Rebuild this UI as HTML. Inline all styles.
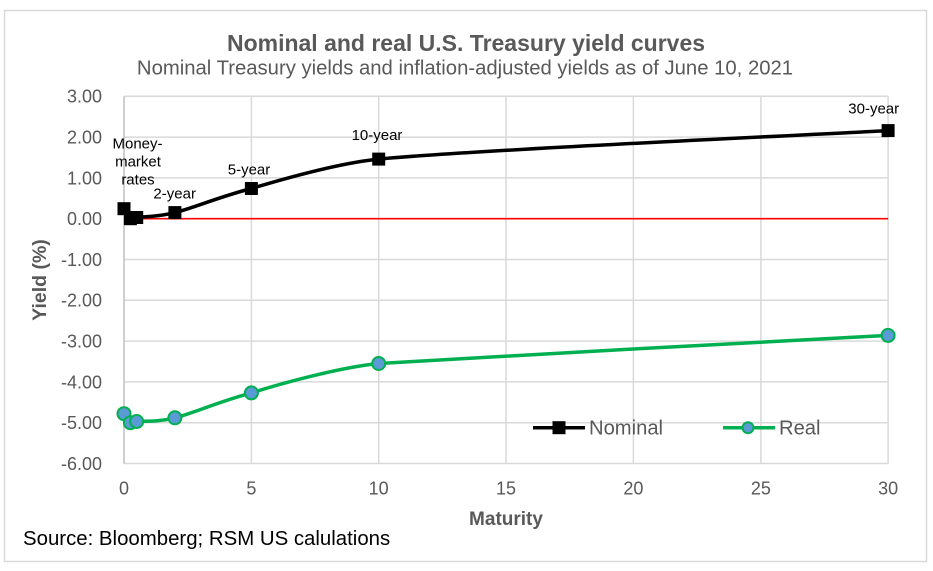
<!DOCTYPE html>
<html><head><meta charset="utf-8"><style>
html,body{margin:0;padding:0;background:#fff;}
svg{display:block;font-family:"Liberation Sans",Arial,sans-serif;}
</style></head><body>
<svg width="933" height="571" viewBox="0 0 933 571" xmlns="http://www.w3.org/2000/svg">
<rect x="0" y="0" width="933" height="571" fill="#fff"/>
<rect x="4.5" y="10.5" width="922" height="551" fill="none" stroke="#D9D9D9" stroke-width="1.5"/>
<!-- titles -->
<text x="466" y="51" text-anchor="middle" font-size="23" font-weight="bold" fill="#595959">Nominal and real U.S. Treasury yield curves</text>
<text x="465" y="74.5" text-anchor="middle" font-size="20.3" fill="#595959">Nominal Treasury yields and inflation-adjusted yields as of June 10, 2021</text>
<!-- gridlines -->
<g stroke="#D9D9D9" stroke-width="1.5" fill="none">
<line x1="124" y1="96.3" x2="888.5" y2="96.3"/>
<line x1="124" y1="137.1" x2="888.5" y2="137.1"/>
<line x1="124" y1="177.9" x2="888.5" y2="177.9"/>
<line x1="124" y1="259.5" x2="888.5" y2="259.5"/>
<line x1="124" y1="300.3" x2="888.5" y2="300.3"/>
<line x1="124" y1="341.1" x2="888.5" y2="341.1"/>
<line x1="124" y1="381.9" x2="888.5" y2="381.9"/>
<line x1="124" y1="422.7" x2="888.5" y2="422.7"/>
<line x1="124" y1="463.5" x2="888.5" y2="463.5"/>
<line x1="251.4" y1="96.3" x2="251.4" y2="463.5"/>
<line x1="378.7" y1="96.3" x2="378.7" y2="463.5"/>
<line x1="506" y1="96.3" x2="506" y2="463.5"/>
<line x1="633.4" y1="96.3" x2="633.4" y2="463.5"/>
<line x1="760.9" y1="96.3" x2="760.9" y2="463.5"/>
<line x1="888.1" y1="96.3" x2="888.1" y2="463.5"/>
</g>
<line x1="124" y1="96.3" x2="124" y2="463.5" stroke="#BFBFBF" stroke-width="1.5"/>
<!-- zero line -->
<line x1="124" y1="218.7" x2="888.1" y2="218.7" stroke="#FF0000" stroke-width="1.6"/>
<!-- y tick labels -->
<g font-size="18" fill="#595959" text-anchor="end">
<text x="102" y="102.7">3.00</text>
<text x="102" y="143.5">2.00</text>
<text x="102" y="184.3">1.00</text>
<text x="102" y="225.1">0.00</text>
<text x="102" y="265.9">-1.00</text>
<text x="102" y="306.7">-2.00</text>
<text x="102" y="347.5">-3.00</text>
<text x="102" y="388.3">-4.00</text>
<text x="102" y="429.1">-5.00</text>
<text x="102" y="469.9">-6.00</text>
</g>
<!-- x tick labels -->
<g font-size="18" fill="#595959" text-anchor="middle">
<text x="124" y="494.5">0</text>
<text x="251.4" y="494.5">5</text>
<text x="378.7" y="494.5">10</text>
<text x="506" y="494.5">15</text>
<text x="633.4" y="494.5">20</text>
<text x="760.9" y="494.5">25</text>
<text x="888.1" y="494.5">30</text>
</g>
<!-- axis titles -->
<text x="506" y="525" text-anchor="middle" font-size="19" font-weight="bold" fill="#595959">Maturity</text>
<text transform="translate(46,280) rotate(-90)" text-anchor="middle" font-size="19.5" font-weight="bold" fill="#595959">Yield (%)</text>
<!-- source -->
<text x="23" y="545" font-size="20.4" fill="#000">Source: Bloomberg; RSM US calulations</text>
<!-- nominal series -->
<path d="M124,208.7 L130.4,218.7 L136.7,217.5 C144.1,216.5 155.8,217.4 174.9,212.6 C194,207.8 217.4,197.4 251.4,188.5 C281.4,179.5 340,162.9 378.7,159.1 C484.8,149.4 803.2,135.3 888.1,130.6" fill="none" stroke="#000" stroke-width="3.5" stroke-linejoin="round"/>
<g fill="#000">
<rect x="117.5" y="202.2" width="13" height="13"/>
<rect x="123.9" y="212.2" width="13" height="13"/>
<rect x="130.2" y="211" width="13" height="13"/>
<rect x="168.4" y="206.1" width="13" height="13"/>
<rect x="244.9" y="182" width="13" height="13"/>
<rect x="372.2" y="152.6" width="13" height="13"/>
<rect x="881.6" y="124.1" width="13" height="13"/>
</g>
<!-- real series -->
<path d="M124,413.7 L130.4,422.7 L136.7,421.5 C144.1,420.7 155.8,422.6 174.9,417.8 C194,413 217.4,402 251.4,392.9 C281.4,383.4 340,367.3 378.7,363.5 C484.8,356.4 803.2,340.1 888.1,335.4" fill="none" stroke="#00B050" stroke-width="3.5" stroke-linejoin="round"/>
<g fill="#5B9BD5" stroke="#00B050" stroke-width="2">
<circle cx="124" cy="413.7" r="6.5"/>
<circle cx="130.4" cy="422.7" r="6.5"/>
<circle cx="136.7" cy="421.5" r="6.5"/>
<circle cx="174.9" cy="417.8" r="6.5"/>
<circle cx="251.4" cy="392.9" r="6.5"/>
<circle cx="378.7" cy="363.5" r="6.5"/>
<circle cx="888.1" cy="335.4" r="6.5"/>
</g>
<!-- data labels -->
<g font-size="15" fill="#000" text-anchor="middle">
<text x="137.5" y="148.4">Money-</text>
<text x="138" y="166.4">market</text>
<text x="138" y="184.4">rates</text>
<text x="174.7" y="198.3">2-year</text>
<text x="249" y="174.3">5-year</text>
<text x="377" y="140">10-year</text>
<text x="873.7" y="113.7">30-year</text>
</g>
<!-- legend -->
<line x1="533" y1="427.7" x2="585" y2="427.7" stroke="#000" stroke-width="3.5"/>
<rect x="552.5" y="421.2" width="13" height="13" fill="#000"/>
<text x="589" y="434.7" font-size="20.2" fill="#595959">Nominal</text>
<line x1="723" y1="427.7" x2="775" y2="427.7" stroke="#00B050" stroke-width="3.5"/>
<circle cx="748" cy="427.7" r="5.5" fill="#5B9BD5" stroke="#00B050" stroke-width="2"/>
<text x="779" y="434.7" font-size="20.2" fill="#595959">Real</text>
</svg>
</body></html>
